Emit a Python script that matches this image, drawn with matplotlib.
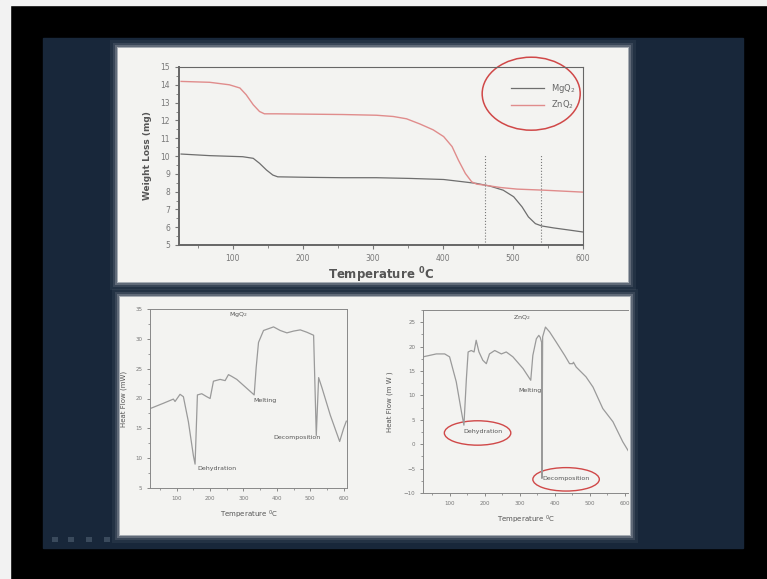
import matplotlib.pyplot as plt
from matplotlib.patches import Rectangle, Ellipse
from matplotlib.ticker import MultipleLocator

W, H = 767, 579

# TGA curves (weight loss, mg)
tga_t_mg = [26, 67, 114, 129, 138, 148, 157, 164, 210, 257, 305, 353, 401, 429, 448,
            467, 486, 501, 513, 522, 532, 541, 558, 582, 600]
tga_w_mg = [10.11, 10.02, 9.96, 9.87, 9.59, 9.21, 8.93, 8.83, 8.80, 8.78, 8.78, 8.74,
            8.68, 8.55, 8.46, 8.31, 8.08, 7.71, 7.14, 6.58, 6.20, 6.07, 5.96, 5.83, 5.73]
tga_t_zn = [26, 67, 95, 110, 119, 129, 138, 145, 162, 210, 257, 305, 329, 348, 367, 386,
            401, 413, 422, 432, 441, 448, 460, 482, 506, 544, 600]
tga_w_zn = [14.19, 14.14, 14.0, 13.82, 13.44, 12.88, 12.5, 12.37, 12.37, 12.35, 12.33,
            12.29, 12.22, 12.09, 11.8, 11.47, 11.09, 10.53, 9.77, 9.02, 8.55, 8.42, 8.36,
            8.23, 8.14, 8.08, 7.97]
marks_t = [460, 540]

# DSC of MgQ2 (heat flow, mW)
dsc_t_mg = [20, 60, 90, 95, 110, 120, 135, 150, 155, 162, 175, 190, 200, 210, 230, 245,
            255, 265, 280, 320, 332, 338, 345, 360, 390, 410, 430, 450, 470, 490, 510,
            518, 525, 535, 560, 588, 600, 608]
dsc_h_mg = [18.3, 19.2, 19.9, 19.5, 20.7, 20.3, 16.1, 10.4, 9.0, 20.6, 20.8, 20.3, 20.0,
            22.9, 23.2, 23.0, 24.0, 23.7, 23.2, 21.2, 20.6, 25.2, 29.4, 31.4, 32.0, 31.4,
            31.0, 31.3, 31.5, 31.1, 30.6, 13.8, 23.5, 21.8, 17.2, 12.8, 15.0, 16.2]

# DSC of ZnQ2 (heat flow, mW)
dsc_t_zn = [24, 62, 86, 100, 119, 134, 141, 148, 153, 162, 170, 176, 184, 195, 205, 214,
            229, 248, 262, 281, 310, 332, 338, 348, 355, 359, 363, 364, 366, 374, 386,
            405, 429, 443, 452, 454, 462, 490, 510, 538, 567, 595, 612]
dsc_h_zn = [17.9, 18.5, 18.5, 17.9, 12.8, 6.6, 3.9, 13.4, 18.9, 19.2, 18.9, 21.3, 18.9,
            17.2, 16.5, 18.5, 19.2, 18.5, 18.9, 17.9, 15.5, 13.1, 18.2, 21.6, 22.3, 21.9,
            20.9, -7.0, 22.0, 24.0, 23.0, 20.9, 18.2, 16.5, 16.5, 16.8, 15.8, 13.8, 11.7,
            7.3, 4.6, 0.5, -1.5]

fig = plt.figure(figsize=(W / 100, H / 100), dpi=100)
fig.patch.set_facecolor('black')


def box(x0, y0, x1, y1):
    return [x0 / W, 1 - y1 / H, (x1 - x0) / W, (y1 - y0) / H]


# slide background
bg = fig.add_axes([0, 0, 1, 1])
bg.set_xlim(0, W)
bg.set_ylim(H, 0)
bg.axis('off')
bg.add_patch(Rectangle((0, 0), 10, H, color='#f2f2f2'))
bg.add_patch(Rectangle((0, 0), W, 5, color='#f2f2f2'))
bg.add_patch(Rectangle((43, 38), 700, 510, color='#18273a'))
for (x0, y0, x1, y1) in [(118, 48, 628, 282), (120, 297, 630, 535)]:
    for d, a in [(8, 0.05), (5, 0.1), (3, 0.2), (1, 0.45)]:
        bg.add_patch(Rectangle((x0 - d, y0 - d), x1 - x0 + 2 * d, y1 - y0 + 2 * d,
                               color='white', alpha=a, lw=0))
    bg.add_patch(Rectangle((x0, y0), x1 - x0, y1 - y0, color='#f3f3f1', lw=0))
for x in [52, 68, 86, 104]:
    bg.add_patch(Rectangle((x, 537), 6, 5, color='#3a4a5c', lw=0))

grey = '#555555'

# top: TGA
ax = fig.add_axes(box(179, 67, 583, 245))
ax.set_facecolor('none')
ax.plot(tga_t_mg, tga_w_mg, color='#6e6e6e', lw=0.9, label='MgQ$_2$')
ax.plot(tga_t_zn, tga_w_zn, color='#e08c8c', lw=1.0, label='ZnQ$_2$')
for t in marks_t:
    ax.plot([t, t], [5, 10.1], color='#777777', lw=0.8, ls=':')
ax.set_xlim(23, 600)
ax.set_ylim(5, 15)
ax.xaxis.set_major_locator(MultipleLocator(100))
ax.xaxis.set_minor_locator(MultipleLocator(50))
ax.yaxis.set_major_locator(MultipleLocator(1))
ax.yaxis.set_minor_locator(MultipleLocator(0.5))
ax.tick_params(labelsize=5.5, colors='#777777', length=3, width=0.8)
ax.tick_params(which='minor', length=2, width=0.6, colors='#777777')
for s in ax.spines.values():
    s.set_color('#666666')
ax.spines['left'].set_linewidth(1.4)
ax.spines['bottom'].set_linewidth(1.4)
ax.set_xlabel('Temperature $^{\\mathbf{0}}$C', fontsize=8.5, fontweight='bold', color=grey, labelpad=2)
ax.set_ylabel('Weight Loss (mg)', fontsize=6.5, fontweight='bold', color=grey, labelpad=6)
ax.legend(loc='upper right', frameon=False, fontsize=6, labelcolor='#666666',
          handlelength=4, bbox_to_anchor=(1.0, 0.96))
ax.add_patch(Ellipse((526, 13.5), 140, 4.1, fill=False, ec='#d04848', lw=1.1, clip_on=False))

# bottom left: DSC MgQ2
ax1 = fig.add_axes(box(150, 309, 347, 488))
ax1.set_facecolor('none')
ax1.plot(dsc_t_mg, dsc_h_mg, color='#9a9a9a', lw=0.9)
ax1.set_xlim(20, 610)
ax1.set_ylim(5, 35)
ax1.xaxis.set_major_locator(MultipleLocator(100))
ax1.xaxis.set_minor_locator(MultipleLocator(50))
ax1.yaxis.set_major_locator(MultipleLocator(5))
ax1.yaxis.set_minor_locator(MultipleLocator(2.5))
ax1.tick_params(labelsize=4, colors='#777777', length=2, width=0.6)
ax1.tick_params(which='minor', length=1.5, width=0.5, colors='#777777')
for s in ax1.spines.values():
    s.set_color('#888888')
    s.set_linewidth(0.7)
ax1.set_xlabel('Temperature $^{0}$C', fontsize=5, color=grey, labelpad=6)
ax1.set_ylabel('Heat Flow (mW)', fontsize=5, color=grey, labelpad=6)
ax1.text(285, 34.0, 'MgQ$_2$', fontsize=4.5, color=grey, ha='center', va='center')
ax1.text(365, 19.6, 'Melting', fontsize=4.5, color=grey, ha='center', va='center')
ax1.text(460, 13.4, 'Decomposition', fontsize=4.5, color=grey, ha='center', va='center')
ax1.text(220, 8.2, 'Dehydration', fontsize=4.5, color=grey, ha='center', va='center')

# bottom right: DSC ZnQ2
ax2 = fig.add_axes(box(423, 310, 628, 493))
ax2.set_facecolor('none')
ax2.plot(dsc_t_zn, dsc_h_zn, color='#9a9a9a', lw=0.9)
ax2.set_xlim(24, 610)
ax2.set_ylim(-10, 27.5)
ax2.xaxis.set_major_locator(MultipleLocator(100))
ax2.xaxis.set_minor_locator(MultipleLocator(50))
ax2.yaxis.set_major_locator(MultipleLocator(5))
ax2.yaxis.set_minor_locator(MultipleLocator(2.5))
ax2.tick_params(labelsize=4, colors='#777777', length=2, width=0.6)
ax2.tick_params(which='minor', length=1.5, width=0.5, colors='#777777')
for s in ax2.spines.values():
    s.set_color('#888888')
    s.set_linewidth(0.7)
ax2.spines['right'].set_visible(False)
ax2.set_xlabel('Temperature $^{0}$C', fontsize=5, color=grey, labelpad=6)
ax2.set_ylabel('Heat Flow (m W )', fontsize=5, color=grey, labelpad=8)
ax2.text(305, 26.0, 'ZnQ$_2$', fontsize=4.5, color=grey, ha='center', va='center')
ax2.text(329, 11.1, 'Melting', fontsize=4.5, color=grey, ha='center', va='center')
ax2.text(195, 2.6, 'Dehydration', fontsize=4.5, color=grey, ha='center', va='center')
ax2.text(434, -7.0, 'Decomposition', fontsize=4.5, color=grey, ha='center', va='center')
ax2.add_patch(Ellipse((180, 2.3), 190, 5.0, fill=False, ec='#d04848', lw=1.0, clip_on=False))
ax2.add_patch(Ellipse((433, -7.2), 190, 4.8, fill=False, ec='#d04848', lw=1.0, clip_on=False))

fig.savefig('out.png', dpi=100, facecolor=fig.get_facecolor())
